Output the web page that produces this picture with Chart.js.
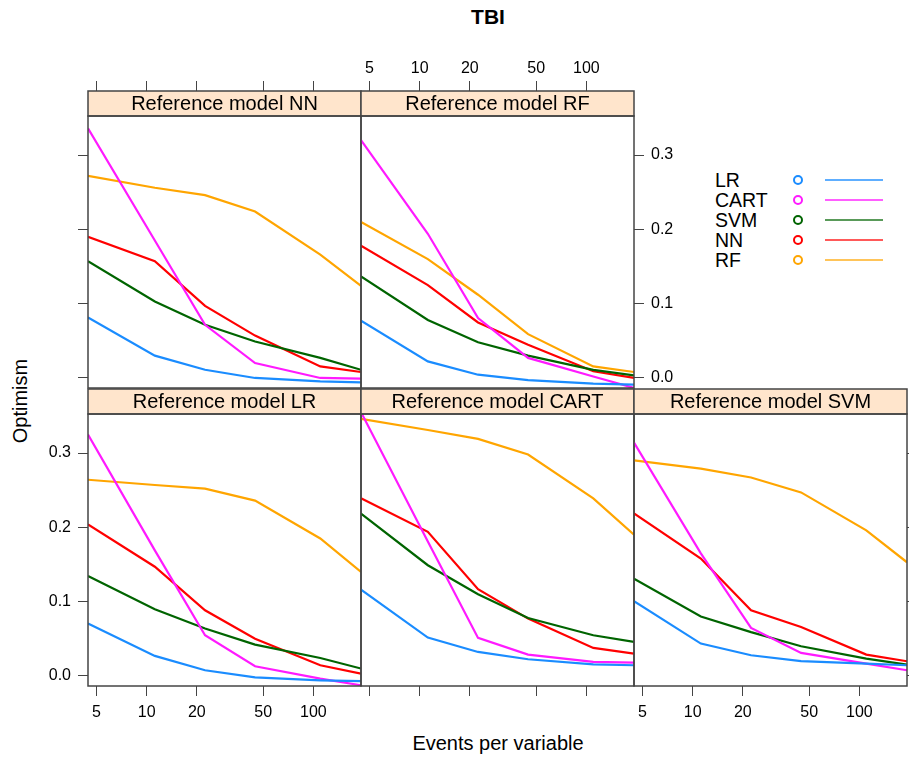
<!DOCTYPE html>
<html>
<head>
<meta charset="utf-8">
<script src="https://cdn.jsdelivr.net/npm/chart.js@4/dist/chart.umd.min.js"></script>
<style>
  body { margin: 0; background: #fff; font-family: "Liberation Sans", Arial, sans-serif; }
  #page { position: relative; width: 909px; height: 759px; overflow: hidden; }
  .panel { position: absolute; }
  .txt { position: absolute; white-space: nowrap; color: #000; }
  .legrow { position: absolute; left: 715px; height: 20px; font-size: 19.5px; line-height: 20px; }
  .dot { position: absolute; width: 6px; height: 6px; border-radius: 50%; border: 2px solid; }
  .seg { position: absolute; height: 2px; }
</style>
</head>
<body>
<div id="page">
  <div class="txt" style="left:488px; top:17px; transform:translate(-50%,-50%); font-weight:bold; font-size:21px;">TBI</div>
  <div class="txt" style="left:20px; top:401px; transform:translate(-50%,-50%) rotate(-90deg); font-size:20px;">Optimism</div>
  <div class="txt" style="left:498px; top:743px; transform:translate(-50%,-50%); font-size:20px;">Events per variable</div>
  <div id="legend"></div>
</div>
<script>
// events per variable (x, log scale)
var epv = [4.45, 11.2, 22.4, 44.7, 110, 193];
var xTicks = [5, 10, 20, 50, 100];
var yTicks = [0, 0.1, 0.2, 0.3];

var methods = ['LR', 'CART', 'SVM', 'NN', 'RF'];
var colors = ['#1a8cff', '#ff1aff', '#006400', '#ff0000', '#ffa500'];
var legendColors = ['rgba(26,140,255,0.7)', 'rgba(255,26,255,0.7)', 'rgba(0,100,0,0.65)', 'rgba(255,0,0,0.65)', 'rgba(255,165,0,0.65)'];

// optimism per reference model, one array per method (LR, CART, SVM, NN, RF)
var refNN = {
    LR:   [0.0815, 0.030, 0.011, 0.000, -0.0045, -0.006],
    CART: [0.336, 0.185, 0.0716, 0.0201, 0.000, -0.001],
    SVM:  [0.157, 0.103, 0.0716, 0.049, 0.027, 0.011],
    NN:   [0.190, 0.157, 0.097, 0.057, 0.0156, 0.008],
    RF:   [0.272, 0.256, 0.246, 0.224, 0.166, 0.124]
};
var refRF = {
    LR:   [0.077, 0.0223, 0.0044, -0.003, -0.0077, -0.009],
    CART: [0.320, 0.194, 0.0806, 0.027, 0.002, -0.0134],
    SVM:  [0.1366, 0.078, 0.048, 0.030, 0.011, 0.0035],
    NN:   [0.178, 0.125, 0.0747, 0.0448, 0.009, 0.000],
    RF:   [0.210, 0.160, 0.112, 0.059, 0.0156, 0.008]
};
var refLR = {
    LR:   [0.0705, 0.027, 0.0077, -0.002, -0.0058, -0.007],
    CART: [0.325, 0.169, 0.0548, 0.013, -0.0035, -0.0125],
    SVM:  [0.1346, 0.0898, 0.0638, 0.0422, 0.0242, 0.010],
    NN:   [0.204, 0.147, 0.0884, 0.050, 0.0144, 0.0032],
    RF:   [0.264, 0.257, 0.252, 0.236, 0.185, 0.140]
};
var refCART = {
    LR:   [0.1163, 0.0517, 0.0323, 0.0225, 0.0157, 0.0144],
    CART: [0.355, 0.181, 0.0512, 0.0288, 0.0189, 0.018],
    SVM:  [0.2186, 0.149, 0.110, 0.078, 0.0548, 0.0458],
    NN:   [0.239, 0.194, 0.1167, 0.0772, 0.0377, 0.030],
    RF:   [0.346, 0.331, 0.319, 0.298, 0.239, 0.190]
};
var refSVM = {
    LR:   [0.1005, 0.0436, 0.0279, 0.020, 0.0167, 0.0144],
    CART: [0.314, 0.165, 0.0646, 0.031, 0.0167, 0.0077],
    SVM:  [0.131, 0.080, 0.059, 0.040, 0.0234, 0.0153],
    NN:   [0.2186, 0.158, 0.0884, 0.066, 0.0288, 0.0198],
    RF:   [0.290, 0.279, 0.267, 0.247, 0.196, 0.153]
};

// panel layout (lattice style)
var colLeft = [88, 361, 634];
var rowTop = [116, 414];
var panelW = 273, panelH = 272, stripH = 25, margin = 80;

var panels = [
    { title: 'Reference model NN', data: refNN, col: 0, row: 0, top: 'ticks', left: 'ticks' },
    { title: 'Reference model RF', data: refRF, col: 1, row: 0, top: 'labels', right: 'labels' },
    { title: 'Reference model LR', data: refLR, col: 0, row: 1, left: 'labels', bottom: 'labels' },
    { title: 'Reference model CART', data: refCART, col: 1, row: 1, bottom: 'ticks' },
    { title: 'Reference model SVM', data: refSVM, col: 2, row: 1, bottom: 'labels', right: 'ticks' }
];

Chart.defaults.font.family = '"Liberation Sans", Arial, sans-serif';
Chart.defaults.color = '#000';

var axisSize = { top: 60, bottom: 40, left: 40, right: 40 };

function makeAxis(kind, position, mode) {
    var horizontal = (position === 'top' || position === 'bottom');
    var tickLen = position === 'top' ? stripH + 10 : 10;
    var ax = {
        type: kind,
        position: position,
        display: !!mode,
        min: horizontal ? epv[0] : -0.0135,
        max: horizontal ? epv[epv.length - 1] : 0.3525,
        grid: { display: true, drawOnChartArea: false, drawTicks: true, tickLength: tickLen, color: '#444', lineWidth: 1 },
        border: { display: false },
        ticks: {
            display: mode === 'labels',
            autoSkip: false,
            maxRotation: 0,
            padding: position === 'top' ? 3 : 7,
            font: { size: 16 },
            callback: function (v) { return horizontal ? String(v) : v.toFixed(1); }
        },
        afterBuildTicks: function (scale) {
            scale.ticks = (horizontal ? xTicks : yTicks).map(function (v) { return { value: v }; });
        },
        afterFit: function (scale) {
            if (!mode) return;
            if (horizontal) scale.height = axisSize[position];
            else scale.width = axisSize[position];
        }
    };
    return ax;
}

// draws the panel box and the strip with its title
var stripPlugin = {
    id: 'strip',
    afterDraw: function (chart) {
        var a = chart.chartArea, c = chart.ctx;
        c.save();
        c.fillStyle = '#ffe5cc';
        c.fillRect(a.left, a.top - stripH, a.right - a.left, stripH);
        c.strokeStyle = '#444';
        c.lineWidth = 1.5;
        c.strokeRect(a.left, a.top - stripH, a.right - a.left, stripH);
        c.strokeRect(a.left, a.top, a.right - a.left, a.bottom - a.top);
        c.fillStyle = '#000';
        c.font = '20px "Liberation Sans", Arial, sans-serif';
        c.textAlign = 'center';
        c.textBaseline = 'middle';
        c.fillText(chart.options.plugins.strip.title, (a.left + a.right) / 2, a.top - stripH / 2 + 1);
        c.restore();
    }
};

var page = document.getElementById('page');

panels.forEach(function (p) {
    var div = document.createElement('div');
    div.className = 'panel';
    div.style.left = (colLeft[p.col] - margin) + 'px';
    div.style.top = (rowTop[p.row] - margin) + 'px';
    var cv = document.createElement('canvas');
    cv.width = panelW + 2 * margin;
    cv.height = panelH + 2 * margin;
    div.appendChild(cv);
    page.appendChild(div);

    var pad = {};
    ['top', 'bottom', 'left', 'right'].forEach(function (s) {
        pad[s] = margin - (p[s] ? axisSize[s] : 0);
    });

    var datasets = methods.map(function (m, i) {
        return {
            label: m,
            data: p.data[m].map(function (v, j) { return { x: epv[j], y: v }; }),
            borderColor: colors[i],
            borderWidth: 2.2,
            pointRadius: 0,
            tension: 0,
            fill: false
        };
    });

    new Chart(cv, {
        type: 'line',
        data: { datasets: datasets },
        options: {
            responsive: false,
            animation: false,
            layout: { padding: pad },
            plugins: { legend: { display: false }, tooltip: { enabled: false }, strip: { title: p.title } },
            scales: {
                x: makeAxis('logarithmic', 'bottom', p.bottom),
                xTop: makeAxis('logarithmic', 'top', p.top),
                y: makeAxis('linear', 'left', p.left),
                yRight: makeAxis('linear', 'right', p.right)
            }
        },
        plugins: [stripPlugin]
    });
});

// legend
var leg = document.getElementById('legend');
methods.forEach(function (m, i) {
    var yc = 180 + i * 20;
    var t = document.createElement('div');
    t.className = 'legrow';
    t.style.top = (yc - 10) + 'px';
    t.textContent = m;
    leg.appendChild(t);
    var d = document.createElement('div');
    d.className = 'dot';
    d.style.left = (798 - 5) + 'px';
    d.style.top = (yc - 5) + 'px';
    d.style.borderColor = colors[i];
    leg.appendChild(d);
    var s = document.createElement('div');
    s.className = 'seg';
    s.style.left = '825px';
    s.style.width = '58px';
    s.style.top = (yc - 1) + 'px';
    s.style.background = legendColors[i];
    leg.appendChild(s);
});
</script>
</body>
</html>
